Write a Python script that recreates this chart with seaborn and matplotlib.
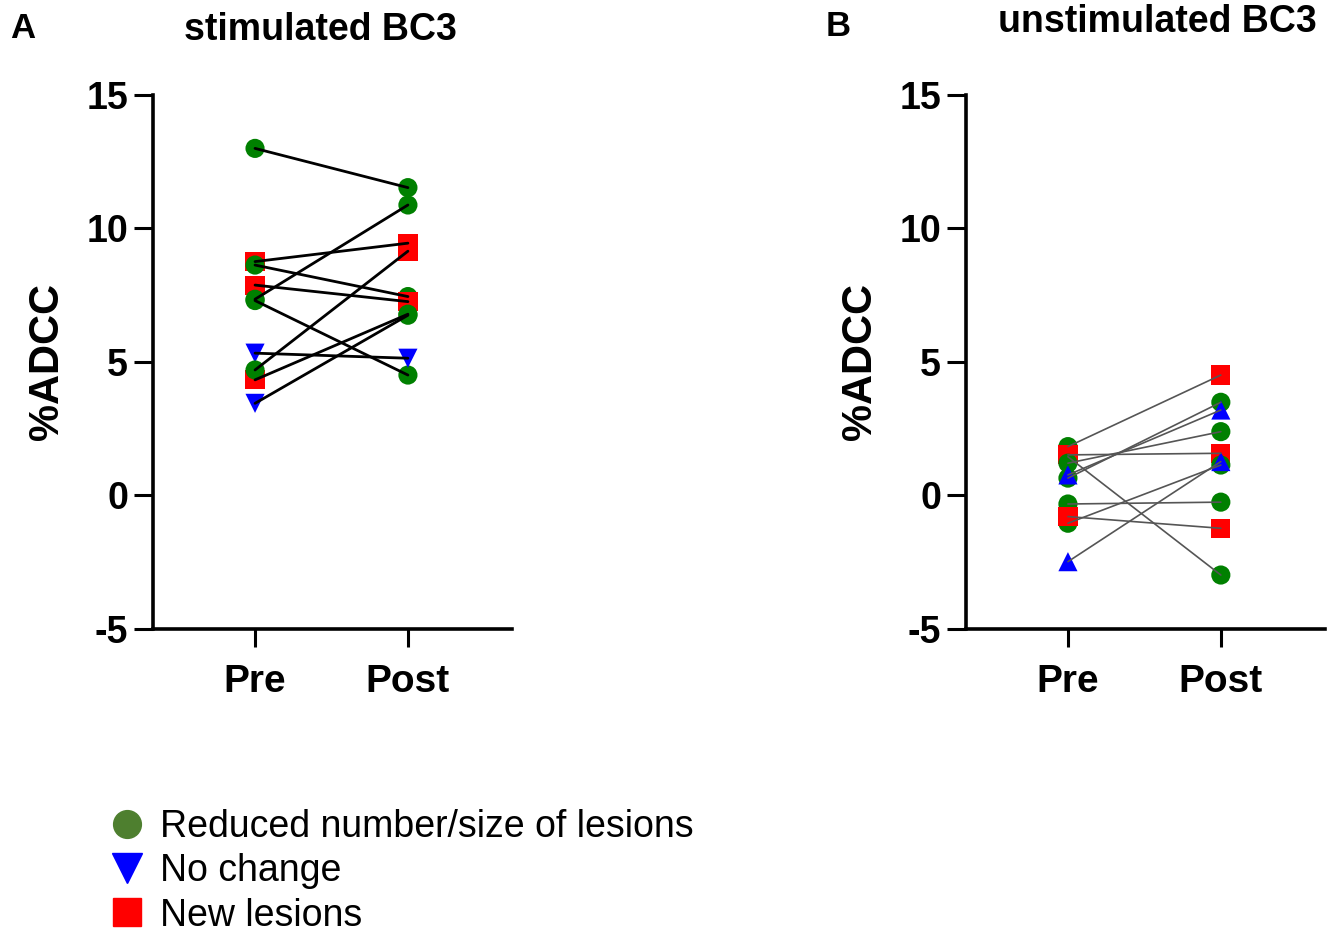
import numpy as np
import pandas as pd
import seaborn as sns
import matplotlib.pyplot as plt
from matplotlib.lines import Line2D

# values (one entry per subject, pre and post)
a_pre = [13.0, 8.76, 8.63, 7.88, 7.35, 7.30, 5.33, 4.33, 4.70, 3.45]
a_post = [11.53, 9.45, 7.45, 7.26, 10.88, 4.51, 5.14, 6.79, 9.15, 6.75]
a_pre_grp = ["R", "N", "R", "N", "R", "R", "C", "N", "R", "C"]
a_post_grp = ["R", "N", "R", "N", "R", "R", "C", "R", "N", "R"]

b_pre = [1.83, 1.45, 1.52, 1.21, 0.65, 0.77, -0.32, -1.04, -0.79, -2.48]
b_post = [4.51, -2.98, 1.58, 2.39, 3.49, 3.20, -0.25, 1.14, -1.23, 1.27]
b_pre_grp = ["R", "R", "N", "R", "R", "C", "R", "R", "N", "C"]
b_post_grp = ["N", "R", "N", "R", "R", "C", "R", "R", "N", "C"]

times = ["Pre", "Post"]
titles = ["stimulated BC3", "unstimulated BC3"]
letters = ["A", "B"]
legend_labels = ["Reduced number/size of lesions", "No change", "New lesions"]

colors = {"R": "#008000", "C": "#0000ff", "N": "#ff0000"}


def make_df(pre, post, pre_grp, post_grp):
    n = len(pre)
    return pd.DataFrame({
        "subject": list(range(n)) * 2,
        "x": [0] * n + [1] * n,
        "value": pre + post,
        "group": pre_grp + post_grp,
    })


df_a = make_df(a_pre, a_post, a_pre_grp, a_post_grp)
df_b = make_df(b_pre, b_post, b_pre_grp, b_post_grp)

sns.set_theme(style="ticks")
plt.rcParams["font.family"] = ["Liberation Sans", "DejaVu Sans"]
plt.rcParams["font.weight"] = "bold"
plt.rcParams["axes.unicode_minus"] = False
for key in ["text.color", "axes.labelcolor", "xtick.color", "ytick.color",
            "axes.edgecolor"]:
    plt.rcParams[key] = "black"

fig = plt.figure(figsize=(13.39, 9.34), dpi=100)
ax_a = fig.add_axes([0.1143, 0.3266, 0.268, 0.5717])
ax_b = fig.add_axes([0.7214, 0.3266, 0.268, 0.5717])

panels = [(ax_a, df_a, "v", "black", 2.0), (ax_b, df_b, "^", "#555555", 1.2)]
for ax, df, tri, lc, lw in panels:
    sns.scatterplot(data=df, x="x", y="value", hue="group", style="group",
                    palette=colors, markers={"R": "o", "C": tri, "N": "s"},
                    s=190, linewidth=0, legend=False, ax=ax, zorder=2)
    sns.lineplot(data=df, x="x", y="value", units="subject", estimator=None,
                 color=lc, linewidth=lw, ax=ax, zorder=3)
    ax.set_xlim(-0.667, 1.68)
    ax.set_ylim(-5, 15)
    ax.set_xticks([0, 1])
    ax.set_xticklabels(times)
    ax.set_yticks([-5, 0, 5, 10, 15])
    ax.set_xlabel("")
    ax.set_ylabel("%ADCC", fontsize=30, fontweight="bold", labelpad=14)
    sns.despine(ax=ax)
    for sp in ["left", "bottom"]:
        ax.spines[sp].set_linewidth(2.6)
        ax.spines[sp].set_color("black")
    ax.tick_params(axis="y", length=14, width=2.2, labelsize=27, pad=4, color="black")
    ax.tick_params(axis="x", length=13, width=2.2, labelsize=28, pad=12, color="black")
    for lab in ax.get_xticklabels() + ax.get_yticklabels():
        lab.set_fontweight("bold")

fig.text(320 / 1339, 1 - 30 / 934, titles[0], fontsize=27, fontweight="bold",
         ha="center", va="center")
fig.text(1157 / 1339, 1 - 22 / 934, titles[1], fontsize=27, fontweight="bold",
         ha="center", va="center")
fig.text(23 / 1339, 1 - 28 / 934, letters[0], fontsize=25, fontweight="bold",
         ha="center", va="center")
fig.text(838 / 1339, 1 - 26 / 934, letters[1], fontsize=25, fontweight="bold",
         ha="center", va="center")

handles = [
    Line2D([], [], marker="o", color="#4e7f2f", linestyle="", markersize=20),
    Line2D([], [], marker="v", color="#0000ff", linestyle="", markersize=21),
    Line2D([], [], marker="s", color="#ff0000", linestyle="", markersize=20),
]
fig.legend(handles, legend_labels, loc="upper left",
           bbox_to_anchor=(108 / 1339, 1 - 809 / 934), frameon=False,
           prop={"size": 27, "weight": "normal"}, handlelength=1.0,
           handletextpad=0.38, labelspacing=0.22, borderpad=0, borderaxespad=0)

fig.savefig("out.png", dpi=100, facecolor="white")
